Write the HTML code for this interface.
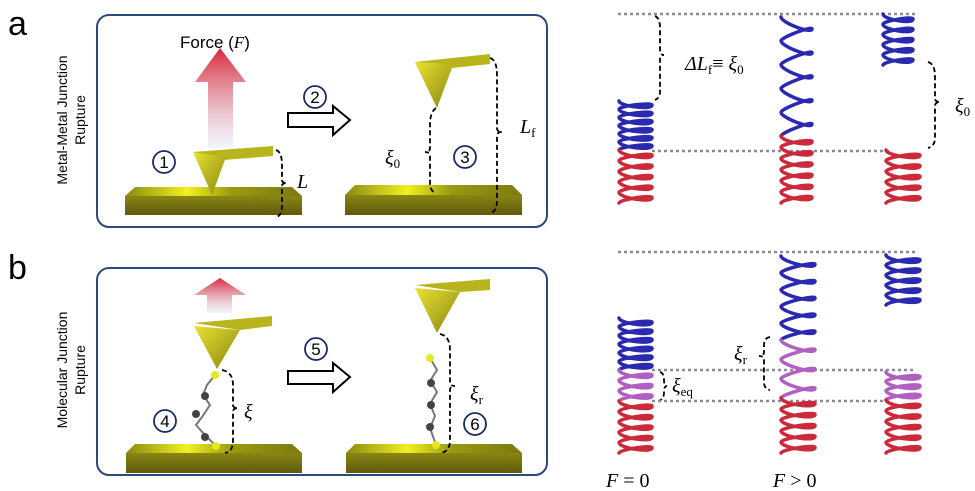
<!DOCTYPE html>
<html><head><meta charset="utf-8"><style>
html,body{margin:0;padding:0;background:#fff;}
svg{display:block;font-family:"Liberation Sans",sans-serif;}
.m{font-family:"Liberation Serif",serif;font-style:italic;}
</style></head><body>
<svg id="s" width="975" height="491" viewBox="0 0 975 491" xmlns="http://www.w3.org/2000/svg">
<defs>
<linearGradient id="fg" x1="0" y1="0" x2="0" y2="1"><stop offset="0" stop-color="#d8283a"/><stop offset="1" stop-color="#e8ecf8" stop-opacity="0.5"/></linearGradient>
<linearGradient id="gt" x1="0" y1="0" x2="1" y2="0"><stop offset="0" stop-color="#8a8a10"/><stop offset="0.35" stop-color="#f2f020"/><stop offset="0.6" stop-color="#9a9a10"/><stop offset="1" stop-color="#7a7a10"/></linearGradient>
<linearGradient id="gf" x1="0" y1="0" x2="0" y2="1"><stop offset="0" stop-color="#8a8614"/><stop offset="1" stop-color="#5e5a0c"/></linearGradient>
<linearGradient id="tip" x1="0" y1="0" x2="1" y2="1"><stop offset="0" stop-color="#e8e430"/><stop offset="1" stop-color="#8a8412"/></linearGradient>
</defs>
<text x="8" y="35" font-size="34">a</text>
<text x="8" y="279" font-size="34">b</text>
<text transform="translate(67,120) rotate(-90)" font-size="14" text-anchor="middle">Metal-Metal Junction</text>
<text transform="translate(85,120) rotate(-90)" font-size="14" text-anchor="middle">Rupture</text>
<text transform="translate(67,370) rotate(-90)" font-size="14" text-anchor="middle">Molecular Junction</text>
<text transform="translate(85,370) rotate(-90)" font-size="14" text-anchor="middle">Rupture</text>
<rect x="97" y="15" width="450" height="212" rx="12" fill="none" stroke="#2b4a7c" stroke-width="2"/>
<rect x="97" y="268" width="450" height="207" rx="12" fill="none" stroke="#2b4a7c" stroke-width="2"/>

<g id="slabs">
<polygon points="135,187 292,187 302,196 125,196" fill="url(#gt)"/><rect x="125" y="196" width="177" height="19" fill="url(#gf)"/>
<polygon points="355,185 512,185 522,195 345,195" fill="url(#gt)"/><rect x="345" y="195" width="177" height="20" fill="url(#gf)"/>
<polygon points="135,444 292,444 302,453 126,453" fill="url(#gt)"/><rect x="126" y="453" width="176" height="20" fill="url(#gf)"/>
<polygon points="355,444 512,444 522,453 346,453" fill="url(#gt)"/><rect x="346" y="453" width="176" height="20" fill="url(#gf)"/>
</g>
<polygon points="220,48 246,82 233,82 233,148 208,148 208,82 195,82" fill="url(#fg)"/>
<polygon points="220,278 246,295 232,295 232,313 207,313 207,295 194,295" fill="url(#fg)"/>
<text x="180" y="48" font-size="17">Force (<tspan class="m">F</tspan>)</text>
<g>
<polygon points="193,152 273,146 273,156 223,160" fill="#b8b41c"/><polygon points="193,152 226,157 212,195" fill="url(#tip)"/>
<polygon points="415,62 490,54 490,64 452,68 437,108" fill="#b8b41c"/><polygon points="415,62 452,64 437,108" fill="url(#tip)"/>
<polygon points="194,323 272,316 272,326 240,330" fill="#b8b41c"/><polygon points="194,326 240,330 217,369" fill="url(#tip)"/>
<polygon points="415,285 490,279 490,290 460,292" fill="#b8b41c"/><polygon points="415,288 460,292 437,333" fill="url(#tip)"/>
</g>
<g stroke="#777" stroke-width="2" fill="none">
<polyline points="215,375 207,385 203,395 210,405 202,417 196,425 205,435 215,445"/>
<polyline points="430,358 437,370 430,381 437,392 430,404 435,416 430,428 436,445"/>
</g>
<g fill="#444">
<circle cx="205" cy="396" r="4"/><circle cx="196" cy="414" r="4"/><circle cx="205" cy="437" r="4"/>
<circle cx="431" cy="383" r="4"/><circle cx="431" cy="405" r="4"/><circle cx="430" cy="427" r="4"/>
</g>
<g fill="#e8e820"><circle cx="215" cy="375" r="4"/><circle cx="216" cy="446" r="4"/><circle cx="430" cy="358" r="4"/><circle cx="436" cy="445" r="4"/></g>
<polygon points="288,113 333,113 333,106 350,120 333,135 333,127 288,127" fill="#fff" stroke="#000" stroke-width="2"/>
<polygon points="288,371 333,371 333,363 350,377 333,392 333,384 288,384" fill="#fff" stroke="#000" stroke-width="2"/>
<g fill="none" stroke="#1a2a66" stroke-width="1.8">
<circle cx="164" cy="162" r="11"/><circle cx="315" cy="97" r="11"/><circle cx="465" cy="157" r="11"/>
<circle cx="165" cy="421" r="11"/><circle cx="316" cy="349" r="11"/><circle cx="475" cy="424" r="11"/>
</g>
<g font-size="17" text-anchor="middle">
<text x="164" y="168">1</text><text x="315" y="103">2</text><text x="465" y="163">3</text>
<text x="165" y="427">4</text><text x="316" y="355">5</text><text x="475" y="430">6</text>
</g>
<g fill="none" stroke="#000" stroke-width="1.8" stroke-dasharray="5,3">
<path d="M276,150 Q282,152 282,165 L282,180 Q282,183 287,183 Q282,183 282,186 L282,205 Q282,216 276,217"/>
<path d="M436,108 Q430,112 430,125 L430,148 Q430,152 425,152 Q430,152 430,156 L430,182 Q430,192 436,193"/>
<path d="M490,58 Q497,60 497,75 L497,128 Q497,132 502,132 Q497,132 497,136 L497,200 Q497,212 490,213"/>
<path d="M222,370 Q233,372 233,385 L233,405 Q233,408 238,408 Q233,408 233,412 L233,440 Q233,452 225,453"/>
<path d="M440,334 Q450,336 450,350 L450,382 Q450,386 455,386 Q450,386 450,390 L450,440 Q450,452 440,453"/>
<path d="M655,16 Q660,18 660,28 L660,50 Q660,55 664,55 Q660,55 660,60 L660,92 Q660,98 655,100"/>
<path d="M928,62 Q935,64 935,76 L935,98 Q935,102 940,102 Q935,102 935,106 L935,138 Q935,146 928,148"/>
<path d="M660,372 Q664,373 664,380 Q664,386 667,386 Q664,386 664,392 Q664,399 660,400"/>
<path d="M770,337 Q764,338 764,345 L764,352 Q764,356 759,356 Q764,356 764,360 L764,382 Q764,389 770,390"/>
</g>
<g class="m" font-size="20">
<text x="297" y="188">L</text>
<text x="385" y="164">ξ<tspan font-size="13" dy="4" font-style="normal">0</tspan></text>
<text x="520" y="133">L<tspan font-size="13" dy="4" font-style="normal">f</tspan></text>
<text x="244" y="418">ξ</text>
<text x="470" y="400">ξ<tspan font-size="13" dy="4" font-style="normal">r</tspan></text>
<text x="685" y="70">ΔL<tspan font-size="13" dy="4" font-style="normal">f</tspan><tspan dy="-4" font-style="normal">≡ </tspan>ξ<tspan font-size="13" dy="4" font-style="normal">0</tspan></text>
<text x="955" y="112">ξ<tspan font-size="13" dy="4" font-style="normal">0</tspan></text>
<text x="672" y="392">ξ<tspan font-size="13" dy="4" font-style="normal">eq</tspan></text>
<text x="734" y="360">ξ<tspan font-size="13" dy="4" font-style="normal">r</tspan></text>
<text x="606" y="487">F <tspan font-style="normal">= 0</tspan></text>
<text x="773" y="487">F <tspan font-style="normal">&gt; 0</tspan></text>
</g>
<g stroke="#8a8a9a" stroke-width="2.5" stroke-dasharray="3,3">
<line x1="618" y1="14" x2="915" y2="14"/><line x1="652" y1="151" x2="890" y2="151"/>
<line x1="618" y1="252" x2="915" y2="252"/><line x1="652" y1="370" x2="915" y2="370"/><line x1="652" y1="401" x2="890" y2="401"/>
</g>
<g id="springs" fill="none" stroke-width="3.5" stroke-linecap="round"></g>
</svg>
<script>
var g=document.getElementById('springs');
function sp(x1,x2,y1,y2,n,c){
 var p=(y2-y1)/n,h=Math.min(4,p*0.45)+1.5,d='M'+x1+','+y1;
 for(var i=0;i<n;i++){var y=y1+i*p,ya=y+p/2,yb=y+p;
  d+=' C'+x1+','+(y+h)+' '+x2+','+(ya+h)+' '+x2+','+ya;
  d+=' C'+x2+','+(ya-h*0.6)+' '+x1+','+(yb-h*0.6)+' '+x1+','+yb;}
 var e=document.createElementNS('http://www.w3.org/2000/svg','path');
 e.setAttribute('d',d);e.setAttribute('stroke',c);g.appendChild(e);}
var B='#2a2ab0',R='#cc2a3a',P='#b060c0';
sp(619,652,101,150,6,B);sp(619,652,150,203,5,R);
sp(781,812,17,136,5,B);sp(781,812,136,203,6,R);
sp(883,913,14,65,5,B);sp(886,920,150,203,5,R);
sp(619,652,318,370,6,B);sp(619,652,370,401,3,P);sp(619,652,401,453,5,R);
sp(781,815,256,340,5,B);sp(781,815,340,398,3,P);sp(781,815,398,453,5,R);
sp(886,920,255,305,5,B);sp(886,920,372,400,3,P);sp(886,920,400,453,5,R);
</script>
</body></html>
